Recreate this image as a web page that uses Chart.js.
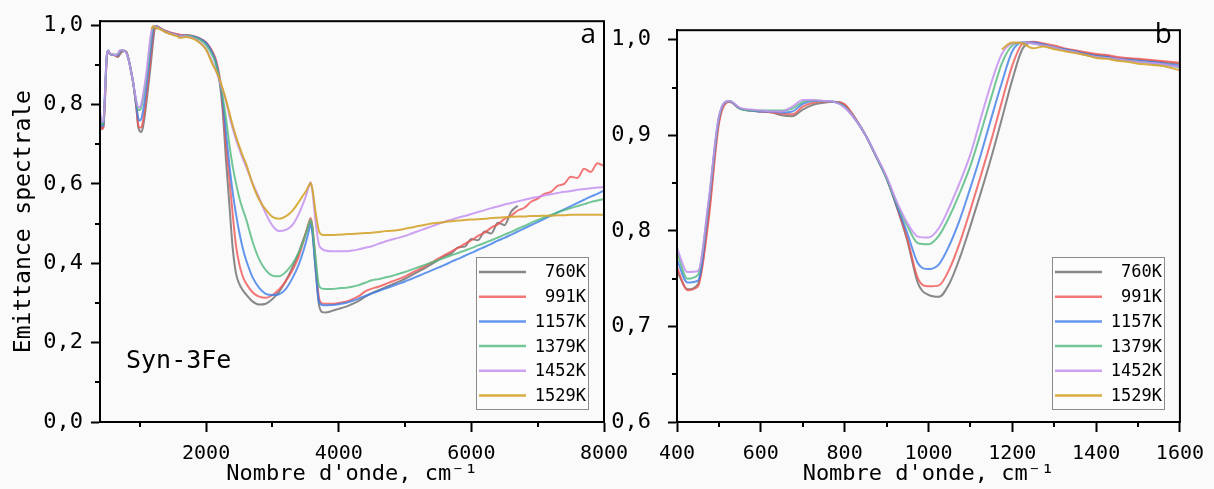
<!DOCTYPE html>
<html><head><meta charset="utf-8">
<script src="https://cdn.jsdelivr.net/npm/chart.js@4.4.1/dist/chart.umd.min.js"></script>
<style>
html,body{margin:0;padding:0;background:#fafafa;width:1214px;height:489px;overflow:hidden;}
canvas{position:absolute;top:0;}
#cA{left:0;} #cB{left:600px;}
</style></head><body>
<canvas id="cA" width="640" height="489"></canvas>
<canvas id="cB" width="614" height="489"></canvas>
<script>
// ---------- DATA ----------
const seriesLabels = ['760K','991K','1157K','1379K','1452K','1529K'];

// wavenumbers (cm-1), fine part 400-1600 (used by both panels)
const wnLow = [400,425,450,475,500,525,550,575,600,625,650,675,700,725,750,775,800,825,850,875,900,925,950,975,1000,1025,1050,1075,1100,1125,1150,1175,1200,1225,1250,1275,1300,1325,1350,1375,1400,1425,1450,1475,1500,1525,1550,1575,1600];
// wavenumbers above 1600 (panel a only)
const wnHigh = [1700,1800,1900,2000,2100,2150,2200,2250,2300,2350,2400,2450,2500,2550,2600,2700,2800,2900,3000,3100,3200,3300,3400,3450,3500,3550,3575,3600,3650,3700,3750,3800,3900,4000,4100,4200,4300,4400,4500,4600,4700,4800,4900,5000,5100,5200,5300,5400,5500,5600,5700,5800,5900,6000,6100,6200,6300,6400,6500,6600,6700,6800,6900,7000,7100,7200,7300,7400,7500,7600,7700,7800,7900,8000];

const k760Low  = [0.758,0.739,0.744,0.815,0.915,0.935,0.928,0.926,0.925,0.924,0.921,0.920,0.927,0.932,0.934,0.935,0.932,0.918,0.900,0.878,0.855,0.824,0.789,0.745,0.733,0.731,0.745,0.772,0.805,0.840,0.877,0.917,0.958,0.991,0.997,0.995,0.993,0.990,0.988,0.986,0.984,0.983,0.981,0.980,0.979,0.978,0.977,0.976,0.975];
const k991Low  = [0.762,0.738,0.742,0.810,0.912,0.935,0.928,0.926,0.925,0.924,0.9225,0.922,0.930,0.934,0.9355,0.935,0.9325,0.918,0.900,0.878,0.855,0.825,0.791,0.750,0.742,0.743,0.760,0.788,0.822,0.858,0.895,0.935,0.973,0.996,0.998,0.996,0.994,0.991,0.989,0.987,0.985,0.984,0.982,0.981,0.980,0.979,0.978,0.977,0.976];
const k1157Low = [0.770,0.746,0.748,0.825,0.918,0.936,0.928,0.926,0.925,0.925,0.924,0.925,0.933,0.936,0.936,0.935,0.930,0.917,0.900,0.878,0.855,0.826,0.797,0.766,0.760,0.765,0.785,0.812,0.845,0.880,0.918,0.955,0.988,0.997,0.997,0.995,0.992,0.990,0.988,0.985,0.983,0.982,0.980,0.979,0.978,0.977,0.976,0.974,0.973];
const k1379Low = [0.778,0.750,0.754,0.828,0.919,0.936,0.928,0.926,0.926,0.926,0.926,0.928,0.935,0.9365,0.936,0.935,0.930,0.917,0.900,0.878,0.855,0.828,0.805,0.787,0.786,0.795,0.815,0.840,0.868,0.903,0.940,0.975,0.994,0.997,0.996,0.994,0.992,0.989,0.987,0.984,0.982,0.981,0.979,0.978,0.977,0.976,0.974,0.973,0.971];
const k1452Low = [0.782,0.757,0.758,0.830,0.920,0.936,0.929,0.927,0.926,0.925,0.925,0.930,0.937,0.937,0.936,0.935,0.929,0.917,0.900,0.879,0.857,0.830,0.808,0.794,0.793,0.803,0.825,0.851,0.880,0.918,0.955,0.985,0.996,0.997,0.996,0.994,0.992,0.989,0.987,0.984,0.982,0.981,0.980,0.978,0.977,0.976,0.975,0.973,0.972];
const k1529Low = [null,null,null,null,null,null,null,null,null,null,null,null,null,null,null,null,null,null,null,null,null,null,null,null,null,null,null,null,null,null,null,0.990,0.997,0.996,0.991,0.993,0.990,0.988,0.986,0.984,0.981,0.980,0.978,0.977,0.975,0.974,0.973,0.971,0.968];

const k760High  = [0.974,0.972,0.966,0.955,0.930, 0.905,0.862,0.785,0.660,0.550,0.440,0.375,0.348,0.333,0.322, 0.304,0.296,0.298,0.310,0.328,0.355,0.388,0.428, 0.452,0.475,0.497,0.505,0.488,0.385,0.298,0.277,0.276, 0.280,0.285,0.290,0.297,0.305,0.316,0.325,0.332,0.339,0.346,0.353,0.361,0.370,0.379,0.388,0.398,0.408,0.418,0.425,0.440,0.442,0.461,0.458,0.480,0.475,0.502,0.496,0.530,0.545, null,null,null,null,null,null,null,null,null,null,null,null,null];
const k991High  = [0.975,0.973,0.967,0.957,0.932, 0.912,0.874,0.800,0.700,0.615,0.525,0.445,0.398,0.368,0.350, 0.327,0.316,0.313,0.320,0.334,0.355,0.382,0.418, 0.445,0.474,0.503,0.514,0.497,0.405,0.315,0.299,0.298, 0.298,0.300,0.303,0.309,0.317,0.329,0.336,0.341,0.347,0.354,0.360,0.367,0.376,0.384,0.393,0.402,0.412,0.421,0.430,0.439,0.449,0.458,0.469,0.477,0.490,0.498,0.512,0.520,0.533,0.540,0.555,0.563,0.575,0.580,0.595,0.600,0.618,0.615,0.638,0.630,0.652,0.645];
const k1157High = [0.974,0.972,0.966,0.955,0.928, 0.905,0.868,0.810,0.730,0.650,0.580,0.525,0.478,0.440,0.410, 0.365,0.338,0.323,0.320,0.322,0.335,0.362,0.398, 0.422,0.450,0.482,0.497,0.480,0.390,0.305,0.295,0.294, 0.295,0.297,0.300,0.305,0.311,0.318,0.324,0.330,0.336,0.342,0.348,0.354,0.361,0.368,0.375,0.382,0.389,0.396,0.404,0.411,0.419,0.426,0.434,0.441,0.449,0.457,0.464,0.472,0.480,0.488,0.496,0.504,0.512,0.520,0.528,0.536,0.544,0.552,0.560,0.568,0.575,0.583];
const k1379High = [0.974,0.971,0.964,0.950,0.922, 0.900,0.865,0.820,0.765,0.700,0.645,0.602,0.566,0.537,0.513, 0.455,0.410,0.383,0.369,0.367,0.378,0.398,0.428, 0.448,0.472,0.500,0.510,0.495,0.415,0.345,0.336,0.335, 0.335,0.337,0.338,0.341,0.345,0.351,0.357,0.360,0.364,0.368,0.373,0.378,0.384,0.390,0.396,0.402,0.408,0.414,0.420,0.426,0.432,0.438,0.445,0.451,0.458,0.465,0.472,0.479,0.487,0.494,0.502,0.509,0.516,0.522,0.528,0.534,0.539,0.544,0.549,0.554,0.558,0.562];
const k1452High = [0.972,0.968,0.958,0.940,0.905, 0.885,0.860,0.835,0.808,0.772,0.740,0.712,0.688,0.665,0.645, 0.602,0.565,0.525,0.495,0.481,0.484,0.496,0.525, 0.545,0.567,0.594,0.604,0.585,0.505,0.448,0.436,0.432, 0.430,0.430,0.430,0.432,0.435,0.439,0.443,0.449,0.455,0.460,0.464,0.469,0.475,0.481,0.487,0.493,0.499,0.505,0.510,0.515,0.519,0.524,0.529,0.534,0.539,0.543,0.548,0.552,0.556,0.560,0.564,0.567,0.571,0.574,0.577,0.580,0.582,0.585,0.587,0.589,0.591,0.592];
const k1529High = [0.970,0.966,0.956,0.938,0.900, 0.885,0.866,0.840,0.812,0.780,0.748,0.720,0.695,0.672,0.652, 0.600,0.560,0.535,0.517,0.512,0.518,0.532,0.555, 0.568,0.580,0.596,0.602,0.590,0.530,0.482,0.472,0.471, 0.471,0.472,0.473,0.474,0.475,0.476,0.477,0.479,0.481,0.482,0.484,0.487,0.490,0.494,0.497,0.500,0.502,0.504,0.506,0.508,0.509,0.510,0.511,0.512,0.514,0.515,0.516,0.517,0.518,0.518,0.519,0.519,0.520,0.520,0.521,0.521,0.522,0.522,0.522,0.522,0.522,0.522];

const seriesColors = ['rgba(115,115,115,0.85)','rgba(240,85,85,0.8)','rgba(60,125,232,0.8)','rgba(80,185,125,0.8)','rgba(196,145,240,0.85)','rgba(212,165,45,0.9)'];

// tick labels / positions
const xTicksA = [2000,4000,6000,8000];
const xMinorA = [1000,3000,5000,7000];
const yTicksA = [0,0.2,0.4,0.6,0.8,1.0];
const yMinorA = [0.1,0.3,0.5,0.7,0.9];
const xTicksB = [400,600,800,1000,1200,1400,1600];
const xMinorB = [500,700,900,1100,1300,1500];
const yTicksB = [0.6,0.7,0.8,0.9,1.0];
const yMinorB = [0.65,0.75,0.85,0.95];

const lowSets  = [k760Low,k991Low,k1157Low,k1379Low,k1452Low,k1529Low];
const highSets = [k760High,k991High,k1157High,k1379High,k1452High,k1529High];

// ---------- CHART ----------
const MONO = 'DejaVu Sans Mono';
const fmtComma = v => Number(v).toFixed(1).replace('.', ',');

const decor = {
  id: 'decor',
  afterDraw(chart, args, o) {
    const {ctx, chartArea: ca, scales} = chart;
    const xs = scales.x, ys = scales.y;
    ctx.save();
    ctx.strokeStyle = '#000'; ctx.lineWidth = 2;
    ctx.strokeRect(ca.left, ca.top, ca.right - ca.left, ca.bottom - ca.top);
    ctx.beginPath();
    o.xMinor.forEach(v => { const p = Math.round(xs.getPixelForValue(v)); ctx.moveTo(p, ca.bottom); ctx.lineTo(p, ca.bottom + 5); });
    o.yMinor.forEach(v => { const p = Math.round(ys.getPixelForValue(v)); ctx.moveTo(ca.left, p); ctx.lineTo(ca.left - 5, p); });
    ctx.stroke();
    // legend box
    const L = o.legend;
    ctx.fillStyle = '#fdfdfd'; ctx.fillRect(L.x, L.y, L.w, L.h);
    ctx.strokeStyle = '#8a8a8a'; ctx.lineWidth = 1; ctx.strokeRect(L.x + 0.5, L.y + 0.5, L.w, L.h);
    chart.data.datasets.forEach((ds, i) => {
      const y = L.y + L.row0 + i * L.step;
      ctx.strokeStyle = ds.borderColor; ctx.lineWidth = 2.5;
      ctx.beginPath(); ctx.moveTo(L.x + 3, y); ctx.lineTo(L.x + 50, y); ctx.stroke();
      ctx.fillStyle = '#000'; ctx.font = '17px "' + MONO + '"';
      ctx.textAlign = 'right'; ctx.textBaseline = 'middle';
      ctx.fillText(ds.label, L.x + L.w - 2, y + 1);
    });
    o.texts.forEach(t => {
      ctx.font = t.font; ctx.fillStyle = '#000'; ctx.textAlign = t.align; ctx.textBaseline = 'alphabetic';
      ctx.fillText(t.text, t.x, t.y);
    });
    ctx.restore();
  }
};

function buildDatasets(withHigh) {
  const wn = withHigh ? wnLow.concat(wnHigh) : wnLow;
  return seriesLabels.map((lab, i) => {
    const vals = withHigh ? lowSets[i].concat(highSets[i]) : lowSets[i];
    return {
      label: lab,
      data: wn.map((w, j) => ({x: w, y: vals[j]})),
      borderColor: seriesColors[i], borderWidth: 2, pointRadius: 0, fill: false,
      cubicInterpolationMode: 'monotone', order: 5 - i, spanGaps: false
    };
  });
}

function axisX(min, max, ticks) {
  return {
    type: 'linear', min, max,
    afterBuildTicks: s => { s.ticks = ticks.map(v => ({value: v})); },
    afterFit: s => { s.height = 67; },
    ticks: {font: {family: MONO, size: 20}, color: '#000', padding: 10, maxRotation: 0, autoSkip: false, callback: v => String(v)},
    grid: {drawOnChartArea: false, drawTicks: true, tickLength: 10, tickWidth: 2, tickColor: '#000'},
    border: {display: true, color: '#000', width: 2},
    title: {display: true, text: "Nombre d'onde, cm\u207B\u00B9", font: {family: MONO, size: 22}, color: '#000', padding: {top: 0, bottom: 2}}
  };
}
function axisY(min, max, ticks, width, pad, title) {
  return {
    type: 'linear', min, max,
    afterBuildTicks: s => { s.ticks = ticks.map(v => ({value: v})); },
    afterFit: s => { s.width = width; },
    ticks: {font: {family: MONO, size: 22}, color: '#000', padding: pad, autoSkip: false, callback: v => fmtComma(v)},
    grid: {drawOnChartArea: false, drawTicks: true, tickLength: 9, tickWidth: 2, tickColor: '#000'},
    border: {display: true, color: '#000', width: 2},
    title: title ? {display: true, text: title, font: {family: MONO, size: 23}, color: '#000', padding: {top: 10, bottom: 0}} : {display: false}
  };
}

new Chart(document.getElementById('cA'), {
  type: 'line',
  data: {datasets: buildDatasets(true)},
  options: {
    responsive: false, animation: false, devicePixelRatio: 1,
    layout: {padding: {top: 16, right: 36, bottom: 0, left: 0}},
    scales: {x: axisX(400, 8000, xTicksA), y: axisY(0, 1.01, yTicksA, 100, 8, 'Emittance spectrale')},
    plugins: {
      legend: {display: false}, tooltip: {enabled: false},
      decor: {
        xMinor: xMinorA, yMinor: yMinorA,
        legend: {x: 476, y: 257, w: 112, h: 152, row0: 15, step: 24.7},
        texts: [
          {text: 'a', x: 596, y: 43, align: 'right', font: '28px "Open Sans"'},
          {text: 'Syn-3Fe', x: 126, y: 368, align: 'left', font: '25px "' + MONO + '"'}
        ]
      }
    }
  },
  plugins: [decor]
});

new Chart(document.getElementById('cB'), {
  type: 'line',
  data: {datasets: buildDatasets(false)},
  options: {
    responsive: false, animation: false, devicePixelRatio: 1,
    layout: {padding: {top: 16, right: 33, bottom: 0, left: 0}},
    scales: {x: axisX(400, 1600, xTicksB), y: axisY(0.6, 1.01, yTicksB, 77, 17, null)},
    plugins: {
      legend: {display: false}, tooltip: {enabled: false},
      decor: {
        xMinor: xMinorB, yMinor: yMinorB,
        legend: {x: 452, y: 257, w: 112, h: 152, row0: 15, step: 24.7},
        texts: [
          {text: 'b', x: 572, y: 43, align: 'right', font: '28px "Open Sans"'}
        ]
      }
    }
  },
  plugins: [decor]
});
</script>
</body></html>
